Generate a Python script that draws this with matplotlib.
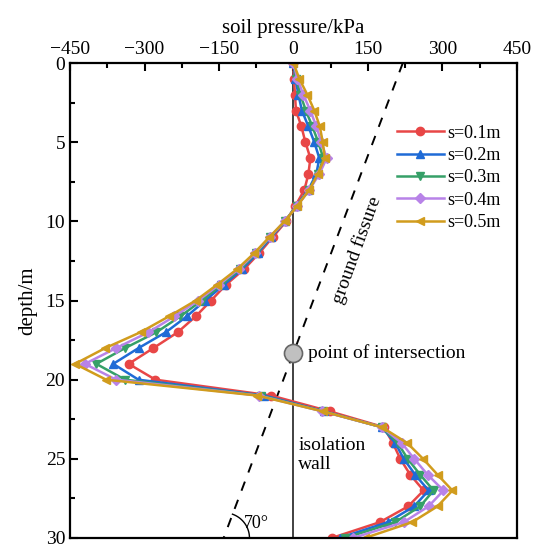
import numpy as np
import matplotlib
matplotlib.use("Agg")
import matplotlib.pyplot as plt

plt.rcParams['font.family'] = ['Liberation Serif', 'DejaVu Serif']

# depth of each measuring point (m)
depth = np.arange(0, 31)

# soil pressure (kPa) for each displacement s
p_01 = [0, 1, 3, 5, 16, 24, 34, 30, 22, 4,
        -15, -42, -69, -99, -136, -166, -197, -233, -282, -332,
        -278, -45, 73, 182, 200, 215, 235, 262, 231, 174, 77]
p_02 = [0, 4, 10, 17, 30, 42, 52, 46, 30, 6,
        -17, -45, -72, -103, -140, -178, -215, -257, -312, -363,
        -312, -59, 62, 178, 205, 222, 245, 272, 243, 190, 93]
p_03 = [0, 6, 14, 25, 38, 50, 60, 50, 31, 7,
        -18, -47, -75, -107, -145, -185, -228, -276, -339, -397,
        -339, -65, 60, 178, 210, 230, 255, 282, 255, 205, 104]
p_04 = [0, 8, 20, 34, 46, 56, 67, 52, 32, 8,
        -18, -48, -77, -110, -150, -192, -240, -292, -357, -420,
        -357, -70, 58, 178, 218, 243, 270, 302, 272, 222, 120]
p_05 = [0, 12, 28, 42, 53, 59, 63, 49, 32, 8,
        -18, -49, -79, -113, -154, -197, -251, -308, -379, -440,
        -377, -73, 59, 178, 229, 261, 290, 320, 290, 239, 144]

labels = ['s=0.1m', 's=0.2m', 's=0.3m', 's=0.4m', 's=0.5m']
colors = ['#e84646', '#1f6bd6', '#36a068', '#b883e8', '#d19c1d']
markers = ['o', '^', 'v', 'D', '<']
msizes = [6, 6, 6, 5, 6]

# ground fissure line: pressure-axis value at depth 0 and at the wall crossing
fissure_top = 220
cross_depth = 18.3

fig = plt.figure(figsize=(5.41, 5.47), dpi=100)
ax = fig.add_axes([0.1294, 0.0165, 0.8262, 0.868])

for p, lab, c, m, ms in zip([p_01, p_02, p_03, p_04, p_05], labels, colors, markers, msizes):
    ax.plot(p, depth, color=c, marker=m, markersize=ms, linewidth=1.8, label=lab)

ax.set_xlim(-450, 450)
ax.set_ylim(30, 0)

# isolation wall
ax.axvline(0, color='#333333', linewidth=1.3, zorder=1)

# ground fissure
d_line = np.array([0, 30])
x_line = fissure_top - fissure_top / cross_depth * d_line
ax.plot(x_line, d_line, color='black', linestyle=(0, (5, 5)), linewidth=1.4, zorder=1)
ax.plot([0], [cross_depth], marker='o', markersize=13, markerfacecolor='#c0c0c0',
        markeredgecolor='#666666', markeredgewidth=1.2, zorder=6)

# 70 degree arc at bottom of fissure line
t = np.linspace(0, np.radians(70), 40)
ax.plot(x_line[1] + 52 * np.cos(t), 30 - 1.6 * np.sin(t), color='black', linewidth=1.0,
        clip_on=False)
ax.text(-100, 29.1, '70°', fontsize=13, va='center', ha='left')

ax.text(128, 11.8, 'ground fissure', fontsize=14, rotation=70, ha='center', va='center')
ax.text(30, 18.3, 'point of intersection', fontsize=14, ha='left', va='center')
ax.text(10, 23.6, 'isolation\nwall', fontsize=14, ha='left', va='top', linespacing=1.15)

ax.xaxis.set_ticks_position('top')
ax.xaxis.set_label_position('top')
ax.set_xticks(np.arange(-450, 451, 150))
ax.set_xticks(np.arange(-450, 451, 75), minor=True)
ax.set_yticks(np.arange(0, 31, 5))
ax.set_yticks(np.arange(0, 31, 2.5), minor=True)
ax.tick_params(which='both', direction='in', labelsize=14, width=1.5)
ax.tick_params(which='major', length=6)
ax.tick_params(which='minor', length=3.5)
for s in ax.spines.values():
    s.set_linewidth(1.6)

ax.set_xlabel('soil pressure/kPa', fontsize=15, labelpad=6)
ax.set_ylabel('depth/m', fontsize=15, labelpad=6)

ax.legend(loc='upper right', bbox_to_anchor=(1.0, 0.905), frameon=False, fontsize=13,
          handlelength=2.6, labelspacing=0.3, handletextpad=0.2)

fig.savefig('out.png', dpi=100)
